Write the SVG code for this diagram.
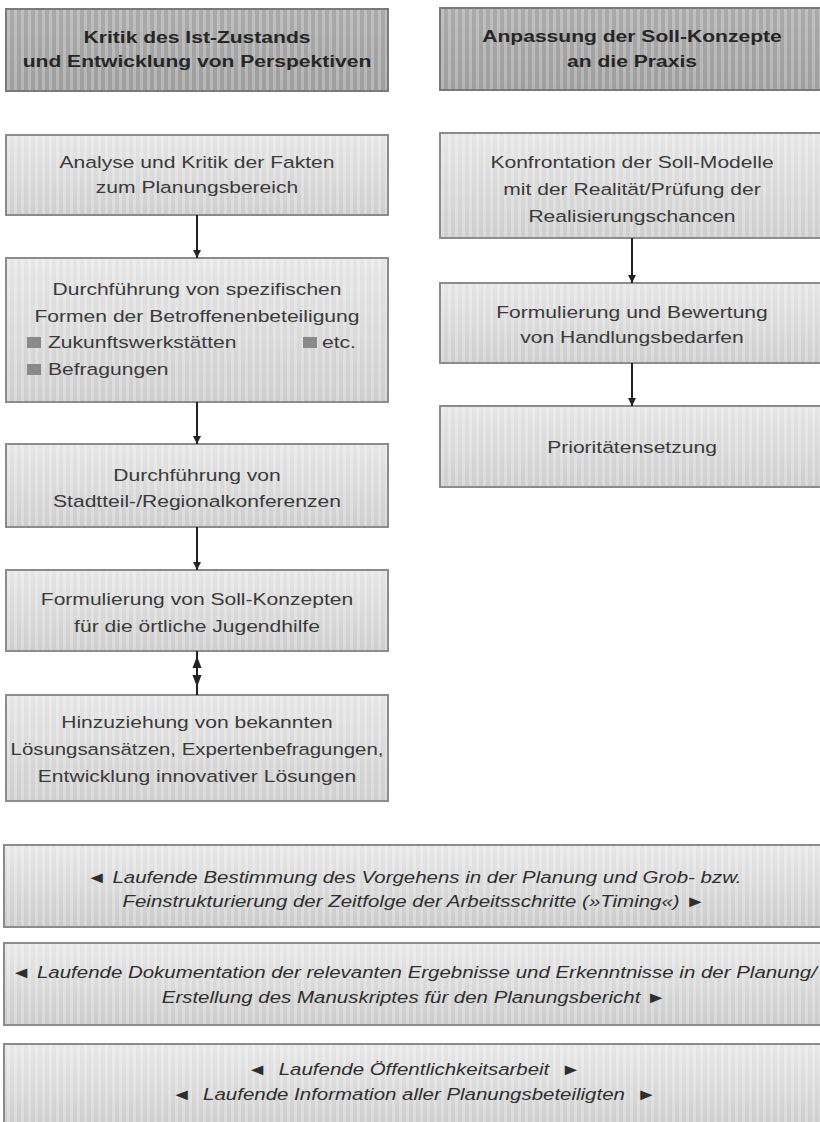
<svg xmlns="http://www.w3.org/2000/svg" width="820" height="1122" viewBox="0 0 820 1122">
<style>
  .box { fill: url(#gLight); stroke: #8c8c8c; stroke-width: 2; }
  .hdr { fill: url(#gDark); stroke: #7a7a7a; stroke-width: 2; }
  .bar { fill: url(#gBar); stroke: #8c8c8c; stroke-width: 2; }
  .tex { fill: url(#stripes); stroke: none; }
  .t { font-family: "Liberation Sans", Arial, sans-serif; font-size: 17px; fill: #3a3a3a; text-anchor: middle; }
  .tl { font-family: "Liberation Sans", Arial, sans-serif; font-size: 17px; fill: #3a3a3a; text-anchor: start; }
  .th { font-family: "Liberation Sans", Arial, sans-serif; font-size: 17px; font-weight: bold; fill: #262626; text-anchor: middle; }
  .ti { font-family: "Liberation Sans", Arial, sans-serif; font-size: 16.5px; font-style: italic; fill: #2e2e2e; text-anchor: middle; white-space: pre; }
  .bul { fill: #8a8a8a; }
  .conn { stroke: #222; stroke-width: 2; fill: none; }
  .head { fill: #222; }
</style>
<defs>
  <linearGradient id="gLight" x1="0" y1="0" x2="0" y2="1">
    <stop offset="0" stop-color="#e6e6e6"/>
    <stop offset="1" stop-color="#cecece"/>
  </linearGradient>
  <linearGradient id="gDark" x1="0" y1="0" x2="0" y2="1">
    <stop offset="0" stop-color="#ababab"/>
    <stop offset="1" stop-color="#9e9e9e"/>
  </linearGradient>
  <linearGradient id="gBar" x1="0" y1="0" x2="0" y2="1">
    <stop offset="0" stop-color="#e8e8e8"/>
    <stop offset="1" stop-color="#cbcbcb"/>
  </linearGradient>
  <pattern id="stripes" width="7" height="10" patternUnits="userSpaceOnUse">
    <rect width="3" height="10" fill="#ffffff" opacity="0.25"/>
  </pattern>
  <marker id="ah" viewBox="0 0 10 10" refX="10" refY="5" markerWidth="11" markerHeight="8" markerUnits="userSpaceOnUse" orient="auto">
    <path d="M0,0 L10,5 L0,10 z" fill="#222"/>
  </marker>
</defs>
<rect width="820" height="1122" fill="#ffffff"/>

<g id="header-left">
  <rect class="hdr" x="6" y="9" width="382" height="82"/>
  <rect class="tex" x="7" y="10" width="380" height="80"/>
  <text class="th" transform="translate(197,43) scale(1.24,1)">Kritik des Ist-Zustands</text>
  <text class="th" transform="translate(197,67) scale(1.24,1)">und Entwicklung von Perspektiven</text>
</g>

<g id="header-right">
  <rect class="hdr" x="440" y="8" width="390" height="82"/>
  <rect class="tex" x="441" y="9" width="380" height="80"/>
  <text class="th" transform="translate(632,42) scale(1.24,1)">Anpassung der Soll-Konzepte</text>
  <text class="th" transform="translate(632,67) scale(1.24,1)">an die Praxis</text>
</g>

<g id="analyse">
  <rect class="box" x="6" y="135" width="382" height="80"/>
  <rect class="tex" x="7" y="136" width="380" height="78"/>
  <text class="t" transform="translate(197,168) scale(1.24,1)">Analyse und Kritik der Fakten</text>
  <text class="t" transform="translate(197,193) scale(1.24,1)">zum Planungsbereich</text>
</g>

<g id="betroffenenbeteiligung">
  <rect class="box" x="6" y="258" width="382" height="144"/>
  <rect class="tex" x="7" y="259" width="380" height="142"/>
  <text class="t" transform="translate(197,295) scale(1.24,1)">Durchführung von spezifischen</text>
  <text class="t" transform="translate(197,322) scale(1.24,1)">Formen der Betroffenenbeteiligung</text>
  <rect class="bul" x="27" y="337" width="14" height="11"/>
  <text class="tl" transform="translate(48,348) scale(1.24,1)">Zukunftswerkstätten</text>
  <rect class="bul" x="303" y="337" width="14" height="11"/>
  <text class="tl" transform="translate(322,348) scale(1.24,1)">etc.</text>
  <rect class="bul" x="27" y="364" width="14" height="11"/>
  <text class="tl" transform="translate(48,375) scale(1.24,1)">Befragungen</text>
</g>

<g id="konferenzen">
  <rect class="box" x="6" y="444" width="382" height="83"/>
  <rect class="tex" x="7" y="445" width="380" height="81"/>
  <text class="t" transform="translate(197,481) scale(1.24,1)">Durchführung von</text>
  <text class="t" transform="translate(197,507) scale(1.24,1)">Stadtteil-/Regionalkonferenzen</text>
</g>

<g id="soll-konzepte">
  <rect class="box" x="6" y="570" width="382" height="81"/>
  <rect class="tex" x="7" y="571" width="380" height="79"/>
  <text class="t" transform="translate(197,605) scale(1.24,1)">Formulierung von Soll-Konzepten</text>
  <text class="t" transform="translate(197,632) scale(1.24,1)">für die örtliche Jugendhilfe</text>
</g>

<g id="hinzuziehung">
  <rect class="box" x="6" y="695" width="382" height="106"/>
  <rect class="tex" x="7" y="696" width="380" height="104"/>
  <text class="t" transform="translate(197,728) scale(1.24,1)">Hinzuziehung von bekannten</text>
  <text class="t" transform="translate(197,755) scale(1.2,1)">Lösungsansätzen, Expertenbefragungen,</text>
  <text class="t" transform="translate(197,782) scale(1.24,1)">Entwicklung innovativer Lösungen</text>
</g>

<g id="konfrontation">
  <rect class="box" x="440" y="133" width="390" height="105"/>
  <rect class="tex" x="441" y="134" width="380" height="103"/>
  <text class="t" transform="translate(632,168) scale(1.24,1)">Konfrontation der Soll-Modelle</text>
  <text class="t" transform="translate(632,195) scale(1.24,1)">mit der Realität/Prüfung der</text>
  <text class="t" transform="translate(632,222) scale(1.24,1)">Realisierungschancen</text>
</g>

<g id="handlungsbedarfe">
  <rect class="box" x="440" y="283" width="390" height="80"/>
  <rect class="tex" x="441" y="284" width="380" height="78"/>
  <text class="t" transform="translate(632,318) scale(1.24,1)">Formulierung und Bewertung</text>
  <text class="t" transform="translate(632,343) scale(1.24,1)">von Handlungsbedarfen</text>
</g>

<g id="prioritaeten">
  <rect class="box" x="440" y="406" width="390" height="81"/>
  <rect class="tex" x="441" y="407" width="380" height="79"/>
  <text class="t" transform="translate(632,453) scale(1.24,1)">Prioritätensetzung</text>
</g>

<g id="bar-timing">
  <rect class="bar" x="4" y="845" width="830" height="82"/>
  <rect class="tex" x="5" y="846" width="816" height="80"/>
  <text class="ti" transform="translate(414,883) scale(1.24,1)">◄ Laufende Bestimmung des Vorgehens in der Planung und Grob- bzw.</text>
  <text class="ti" transform="translate(414,907) scale(1.24,1)">Feinstrukturierung der Zeitfolge der Arbeitsschritte (»Timing«) ►</text>
</g>

<g id="bar-dokumentation">
  <rect class="bar" x="4" y="943" width="830" height="82"/>
  <rect class="tex" x="5" y="944" width="816" height="80"/>
  <text class="ti" transform="translate(414,978) scale(1.24,1)">◄ Laufende Dokumentation der relevanten Ergebnisse und Erkenntnisse in der Planung/</text>
  <text class="ti" transform="translate(414,1003) scale(1.24,1)">Erstellung des Manuskriptes für den Planungsbericht ►</text>
</g>

<g id="bar-oeffentlichkeit">
  <rect class="bar" x="4" y="1044" width="830" height="90"/>
  <rect class="tex" x="5" y="1045" width="816" height="77"/>
  <text class="ti" transform="translate(414,1075) scale(1.24,1)">◄  Laufende Öffentlichkeitsarbeit  ►</text>
  <text class="ti" transform="translate(414,1100) scale(1.24,1)">◄  Laufende Information aller Planungsbeteiligten  ►</text>
</g>

<g id="connectors">
  <path class="conn" d="M197,215 V258" marker-end="url(#ah)"/>
  <path class="conn" d="M197,402 V444" marker-end="url(#ah)"/>
  <path class="conn" d="M197,527 V570" marker-end="url(#ah)"/>
  <path class="conn" d="M197,651 V695"/>
  <polygon class="head" points="192.5,668 201.5,668 197,656"/>
  <polygon class="head" points="192.5,675 201.5,675 197,687"/>
  <path class="conn" d="M632,238 V283" marker-end="url(#ah)"/>
  <path class="conn" d="M632,363 V406" marker-end="url(#ah)"/>
</g>
</svg>
